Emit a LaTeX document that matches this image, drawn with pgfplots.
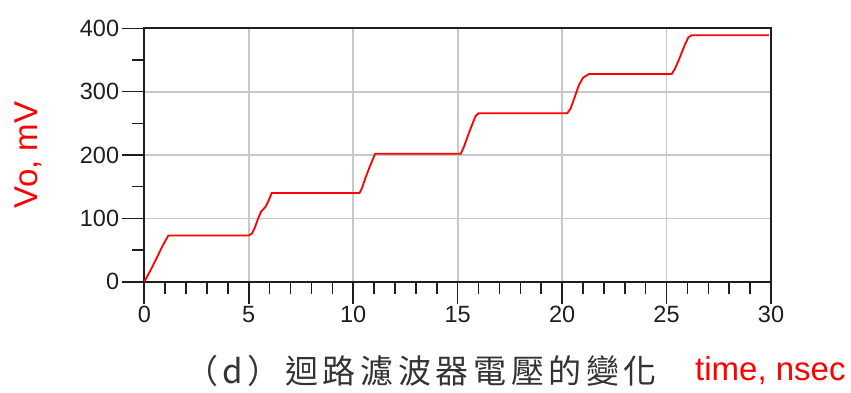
\documentclass[border=0pt]{standalone}
\usepackage{fontspec}
\setmainfont{Liberation Sans}
\newfontfamily\cjk[LetterSpace=14]{Noto Sans CJK TC}
\usepackage{pgfplots}
\pgfplotsset{compat=1.18}
\definecolor{axisdark}{HTML}{1E1E1E}
\definecolor{gridgray}{HTML}{C8C8C8}
\definecolor{captext}{HTML}{333333}
\begin{document}
\begin{tikzpicture}
\begin{axis}[
  scale only axis,
  width=626.7pt, height=253.4pt,
  xmin=0, xmax=30, ymin=0, ymax=400,
  xtick={0,5,...,30}, ytick={0,100,...,400},
  minor x tick num=4, minor y tick num=1,
  tick align=outside, tick pos=left,
  major tick length=22pt, minor tick length=12pt,
  every tick/.style={line width=1.6pt, color=axisdark},
  grid=major,
  major grid style={line width=1.7pt, color=gridgray},
  axis line style={line width=2pt, color=axisdark},
  /pgf/number format/assume math mode=true,
  /pgf/number format/1000 sep={},
  tick label style={font=\fontsize{23.5}{23.5}\selectfont, color=axisdark},
  xticklabel style={inner sep=2pt},
  yticklabel style={inner sep=3pt},
  clip=false,
]
\addplot[red, line width=1.8pt] table {
x y
0 0
0.3 18
0.6 38
0.9 58
1.15 73
5.0 73
5.15 76
5.3 86
5.45 100
5.6 111
5.8 118
5.95 128
6.1 140
10.3 140
10.4 146
10.6 165
10.75 178
10.9 190
11.05 202
15.15 202
15.3 213
15.6 240
15.85 261
16.0 266
20.25 266
20.4 273
20.6 291
20.8 310
21.0 322
21.3 328
25.25 328
25.4 336
25.6 351
25.85 372
26.05 386
26.2 389
29.9 389
};
\coordinate (O) at (rel axis cs:0,0);
\end{axis}
\path (O) ++(-144.3pt,-110.3pt) rectangle ++(851pt,392pt);
\node[rotate=90, red, font=\fontsize{33}{33}\selectfont, inner sep=0pt, anchor=center] at ([xshift=-115.8pt, yshift=126.7pt]O) {Vo, mV};
\node[red, font=\fontsize{33}{33}\selectfont, inner sep=0pt, anchor=base west] at ([xshift=550.7pt, yshift=-98.3pt]O) {time, nsec};
\node[captext, font=\cjk\fontsize{33}{33}\selectfont, inner sep=0pt, anchor=base] at ([xshift=276.7pt, yshift=-102pt]O) {（d）迴路濾波器電壓的變化};
\end{tikzpicture}
\end{document}
